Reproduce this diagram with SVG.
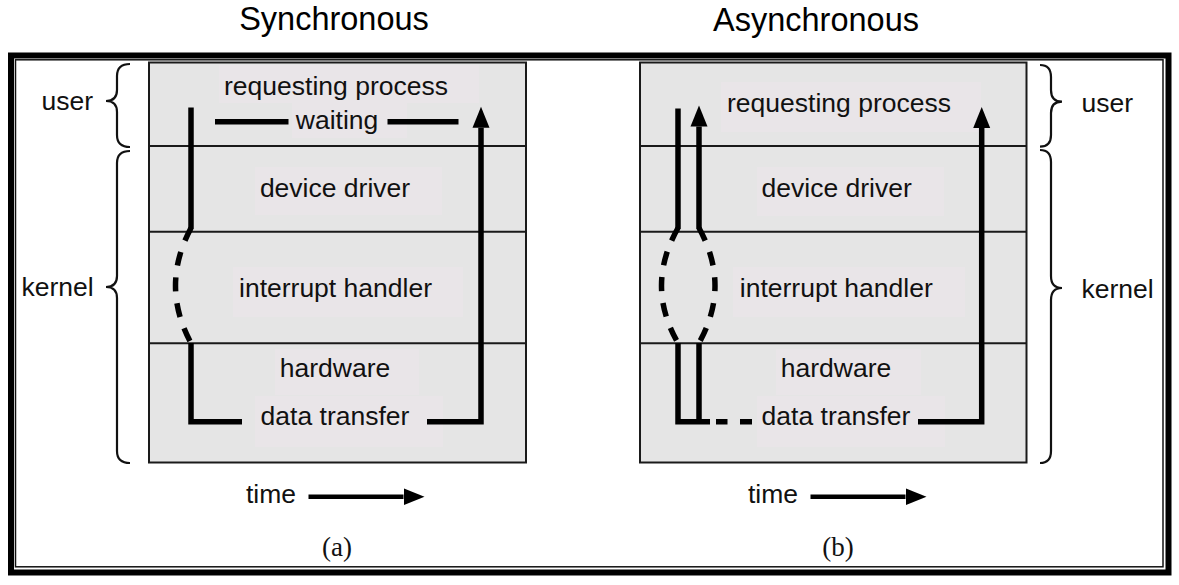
<svg xmlns="http://www.w3.org/2000/svg" width="1179" height="585" viewBox="0 0 1179 585">
<style>
.t{font-family:"Liberation Sans",Arial,sans-serif;font-size:26.5px;fill:#111;text-anchor:middle}
.ts{font-family:"Liberation Sans",Arial,sans-serif;font-size:26.5px;fill:#111}
.h{font-family:"Liberation Sans",Arial,sans-serif;font-size:32.5px;fill:#000;text-anchor:middle}
.cap{font-family:"Liberation Serif","Times New Roman",serif;font-size:27px;fill:#111;text-anchor:middle}
.panel{fill:#e5e5e5;stroke:#1a1a1a;stroke-width:2}
.div{stroke:#1a1a1a;stroke-width:2}
.bg{fill:#e9e5e8}
.ln{fill:none;stroke:#000;stroke-width:5.5}
.dash{fill:none;stroke:#000;stroke-width:5.5;stroke-dasharray:14 12}
.br{fill:none;stroke:#111;stroke-width:2.2}
</style>
<defs>
<marker id="ah" markerUnits="userSpaceOnUse" markerWidth="22" markerHeight="18" refX="0" refY="8.5" orient="auto" viewBox="0 0 22 17">
<path d="M0,0 L21,8.5 L0,17 z" fill="#000"/>
</marker>
</defs>
<rect width="1179" height="585" fill="#fff"/>
<g id="frame">
<rect x="11" y="55.5" width="1157.5" height="517" fill="none" stroke="#000" stroke-width="6"/>
<rect x="15.5" y="59.8" width="1147.5" height="507" fill="none" stroke="#111" stroke-width="1.5"/>
</g>
<g id="titles">
<text class="h" x="334" y="29.5">Synchronous</text>
<text class="h" x="816" y="31">Asynchronous</text>
</g>
<g id="panel-a">
<rect class="panel" x="149" y="62.5" width="377" height="400"/>
<line class="div" x1="149" y1="146" x2="526" y2="146"/>
<line class="div" x1="149" y1="231.7" x2="526" y2="231.7"/>
<line class="div" x1="149" y1="343.3" x2="526" y2="343.3"/>
</g>
<g id="panel-b">
<rect class="panel" x="640" y="62.5" width="386.5" height="400"/>
<line class="div" x1="640" y1="146" x2="1026.5" y2="146"/>
<line class="div" x1="640" y1="231.7" x2="1026.5" y2="231.7"/>
<line class="div" x1="640" y1="343.3" x2="1026.5" y2="343.3"/>
</g>
<g id="a-requesting">
<rect class="bg" x="219" y="65" width="260" height="38"/>
<text class="t" x="336" y="95">requesting process</text>
</g>
<g id="a-waiting">
<rect class="bg" x="292" y="101" width="115" height="37"/>
<text class="t" x="337" y="128.5">waiting</text>
</g>
<g id="a-driver">
<rect class="bg" x="255" y="167" width="187" height="48"/>
<text class="t" x="335" y="196.5">device driver</text>
</g>
<g id="a-interrupt">
<rect class="bg" x="233" y="267" width="230" height="50"/>
<text class="t" x="335.5" y="297.3">interrupt handler</text>
</g>
<g id="a-hardware">
<rect class="bg" x="275" y="349" width="144" height="46"/>
<text class="t" x="335" y="377.3">hardware</text>
</g>
<g id="a-transfer">
<rect class="bg" x="255" y="396" width="188" height="51"/>
<text class="t" x="335" y="425">data transfer</text>
</g>
<g id="b-requesting">
<rect class="bg" x="721" y="82" width="260" height="50"/>
<text class="t" x="839" y="111.7">requesting process</text>
</g>
<g id="b-driver">
<rect class="bg" x="757" y="167" width="187" height="49"/>
<text class="t" x="836.7" y="196.7">device driver</text>
</g>
<g id="b-interrupt">
<rect class="bg" x="733" y="267" width="232" height="50"/>
<text class="t" x="836.3" y="297.3">interrupt handler</text>
</g>
<g id="b-hardware">
<rect class="bg" x="776" y="349" width="145" height="46"/>
<text class="t" x="836" y="377.3">hardware</text>
</g>
<g id="b-transfer">
<rect class="bg" x="757" y="396" width="188" height="51"/>
<text class="t" x="836" y="425">data transfer</text>
</g>
<g id="side-labels">
<path class="br" d="M130,64 Q117,64 117,76 V90 Q117,101 106,101 Q117,101 117,112 V135 Q117,147 130,147"/>
<path class="br" d="M130,151 Q117,151 117,163 V276 Q117,287 106,287 Q117,287 117,298 V451 Q117,463 130,463"/>
<text class="ts" x="41.5" y="110">user</text>
<text class="ts" x="21.5" y="295.7">kernel</text>
<path class="br" d="M1040,65 Q1051,65 1051,77 V90 Q1051,101.7 1062,101.7 Q1051,101.7 1051,113 V135 Q1051,146.7 1040,146.7"/>
<path class="br" d="M1040,150 Q1051,150 1051,162 V276 Q1051,288 1062,288 Q1051,288 1051,300 V451 Q1051,463 1040,463"/>
<text class="ts" x="1081.5" y="111.7">user</text>
<text class="ts" x="1081.5" y="298">kernel</text>
</g>
<g id="connectors">
<path class="ln" d="M191,107.5 V229"/>
<path class="dash" d="M191,228 Q160,286 191,343"/>
<path class="ln" d="M191,343 V421.7 H242"/>
<path class="ln" d="M427,421.7 H481 V127.7" marker-end="url(#ah)"/>
<path class="ln" d="M215,121.7 H288.5 M387.5,121.7 H458.5"/>
<path class="ln" d="M678,108.5 V229"/>
<path class="ln" d="M699,229 V126.5" marker-end="url(#ah)"/>
<path class="dash" d="M678,228 Q645,286 678,343"/>
<path class="dash" d="M699,228 Q731,286 699,343"/>
<path class="ln" d="M678,343 V421.7 H710 M699,343 V421.7"/>
<path class="ln" d="M716,421.7 H727.5 M740,421.7 H752"/>
<path class="ln" d="M918,421.7 H981.7 V128" marker-end="url(#ah)"/>
<path class="ln" style="stroke-width:4.5" d="M308.5,496.7 H403.5" marker-end="url(#ah)"/>
<path class="ln" style="stroke-width:4.5" d="M810.5,496.7 H905.5" marker-end="url(#ah)"/>
</g>
<g id="captions">
<text class="ts" x="246" y="503.3">time</text>
<text class="ts" x="748" y="503.3">time</text>
<text class="cap" x="337" y="556">(a)</text>
<text class="cap" x="838" y="556">(b)</text>
</g>
</svg>
